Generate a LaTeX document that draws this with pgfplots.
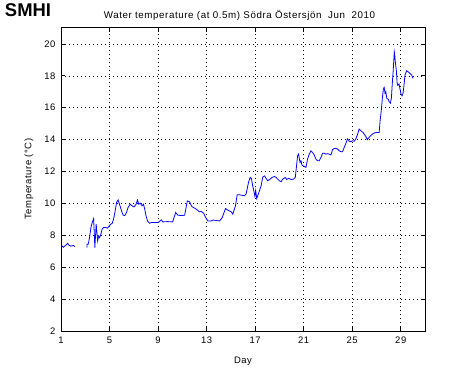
\documentclass[border=0pt]{standalone}
\usepackage{pgfplots}
\pgfplotsset{compat=1.18}
\usepackage{pgfplotstable}
\usepackage{fontspec}
\setmainfont{Liberation Sans}
\newfontfamily\spaced[LetterSpace=6]{Liberation Sans}
\pgfplotstableread{
day T
1.06 7.35
1.19 7.25
1.39 7.38
1.55 7.50
1.66 7.38
1.82 7.32
2.01 7.36
2.15 7.30
2.60 nan
3.14 7.23
3.15 7.44
3.24 7.44
3.33 7.76
3.47 8.49
3.57 8.80
3.69 9.05
3.74 8.18
3.79 7.23
3.90 8.70
4.02 7.65
4.10 7.96
4.18 7.85
4.29 8.07
4.39 8.38
4.51 8.49
4.67 8.49
4.84 8.45
4.97 8.59
5.11 8.70
5.22 8.75
5.33 9.00
5.44 9.43
5.58 10.06
5.71 10.22
5.82 9.95
5.99 9.53
6.12 9.26
6.26 9.24
6.40 9.43
6.53 9.75
6.70 9.95
6.86 9.85
7.02 9.78
7.19 9.95
7.30 10.22
7.41 9.95
7.52 10.02
7.68 9.85
7.80 9.95
7.90 9.64
8.01 9.22
8.13 8.90
8.29 8.76
8.45 8.80
8.73 8.80
9.00 8.80
9.28 8.97
9.38 8.84
9.79 8.86
10.20 8.84
10.45 9.43
10.64 9.26
10.94 9.24
11.19 9.26
11.41 10.16
11.60 10.10
11.79 9.80
12.15 9.64
12.42 9.47
12.56 9.50
12.75 9.39
12.92 9.12
13.11 8.90
13.38 8.90
13.52 8.96
13.80 8.93
14.07 8.90
14.29 9.12
14.56 9.68
14.75 9.58
15.03 9.47
15.16 9.33
15.38 9.85
15.52 10.54
15.71 10.54
16.12 10.48
16.26 10.60
16.45 11.31
16.59 11.63
16.70 11.55
16.80 11.10
16.86 10.90
16.98 10.45
17.05 10.80
17.13 10.30
17.27 10.60
17.49 11.10
17.63 11.65
17.77 11.73
17.90 11.57
18.04 11.42
18.23 11.52
18.40 11.63
18.59 11.69
18.73 11.63
19.00 11.42
19.14 11.36
19.27 11.52
19.49 11.63
19.60 11.50
19.76 11.57
19.96 11.50
20.15 11.52
20.31 11.63
20.50 12.99
20.58 13.09
20.70 12.57
20.78 12.67
20.86 12.40
21.05 12.32
21.19 12.26
21.32 12.78
21.46 13.09
21.60 13.30
21.73 13.20
21.87 13.04
22.01 12.78
22.15 12.67
22.28 12.67
22.42 12.88
22.56 13.15
22.70 13.15
22.84 13.09
22.97 13.12
23.11 13.09
23.25 13.04
23.38 13.37
23.52 13.45
23.66 13.45
23.79 13.41
23.93 13.30
24.07 13.24
24.20 13.24
24.34 13.51
24.48 13.77
24.61 14.05
24.75 13.90
24.89 13.87
25.02 13.93
25.16 13.90
25.30 14.05
25.43 14.30
25.57 14.66
25.79 14.50
25.90 14.45
25.98 14.35
26.12 14.20
26.25 14.00
26.45 14.20
26.67 14.35
26.94 14.45
27.22 14.45
27.30 15.18
27.41 15.92
27.49 16.65
27.57 17.17
27.63 17.28
27.71 16.90
27.77 17.00
27.85 16.59
27.98 16.52
28.04 16.38
28.15 16.29
28.23 16.60
28.31 17.59
28.37 18.22
28.47 19.50
28.51 19.30
28.53 19.06
28.59 18.64
28.64 18.32
28.70 17.59
28.75 17.40
28.86 17.49
28.94 17.17
29.02 16.86
29.11 16.75
29.19 16.90
29.27 17.42
29.35 18.05
29.49 18.32
29.62 18.25
29.76 18.15
29.90 18.05
30.01 17.84
}\datatable
\begin{document}
\begin{tikzpicture}
\useasboundingbox (-61bp,-41bp) rectangle (409bp,331bp);
\begin{axis}[
  at={(0,0)}, anchor=south west,
  scale only axis, width=364bp, height=303bp,
  xmin=1, xmax=31, ymin=2, ymax=21,
  xtick={1,5,9,13,17,21,25,29}, ytick={2,4,...,20},
  grid=major,
  major grid style={black, line width=0.6pt, dash pattern=on 0.8bp off 3.2bp},
  tick align=inside, major tick length=4bp,
  tick style={black, line width=0.7pt},
  axis line style={black, line width=1pt},
  tick label style={font=\spaced\fontsize{9.5}{11}\selectfont},
  xticklabel style={yshift=-2bp},
  yticklabel style={xshift=-2bp},
  /pgf/number format/assume math mode=true,
  unbounded coords=jump,
]
\addplot[blue, line width=0.8pt, mark=none] table[x=day, y=T] {\datatable};
\end{axis}
\node[font=\spaced\fontsize{9.8}{11}\selectfont] at (178.5bp,316bp) {Water temperature (at 0.5m) Södra Östersjön\ \ Jun\ \ 2010};
\node[font=\spaced\fontsize{9.5}{11}\selectfont] at (182bp,-30bp) {Day};
\node[font=\spaced\fontsize{9.5}{11}\selectfont, rotate=90] at (-32bp,152bp) {Temperature (°C)};
\node[font=\fontsize{18.5}{19}\selectfont\bfseries, inner sep=0pt] at (-33bp,321bp) {SMHI};
\end{tikzpicture}
\end{document}
